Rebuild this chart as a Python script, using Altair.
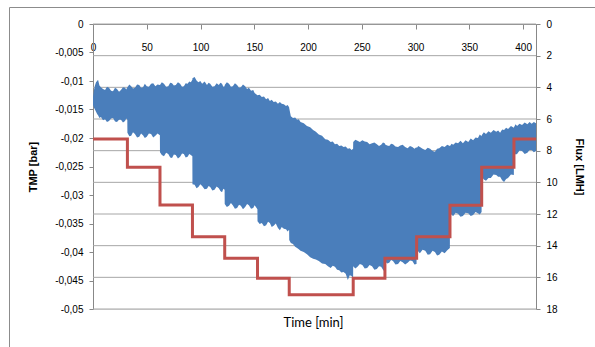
import altair as alt
import pandas as pd

# ---- data: (time [min], upper TMP, lower TMP) per flux step ----
seg1 = [(0, -0.0128, -0.0142), (0.9, -0.0116, -0.0147), (1.8, -0.0108, -0.0150), (2.8, -0.0102, -0.0154),
        (3.8, -0.0100, -0.0158), (4.7, -0.0098, -0.0160), (6, -0.0108, -0.0165), (7.4, -0.0111, -0.0163),
        (9.3, -0.0114, -0.0169), (11.2, -0.0116, -0.0167), (13, -0.0110, -0.0172), (14.9, -0.0112, -0.0170),
        (16.8, -0.0117, -0.0166), (18.6, -0.0118, -0.0165), (20.5, -0.0112, -0.0171), (22.3, -0.0114, -0.0172),
        (24.2, -0.0119, -0.0168), (26.0, -0.0116, -0.0168), (27.9, -0.0111, -0.0173), (29.8, -0.0112, -0.0170),
        (30.9, -0.0115, -0.0166), (31.9, -0.0111, -0.0168)]
seg2 = [(32.0, -0.0111, -0.0191), (33.8, -0.0106, -0.0197), (35.5, -0.0109, -0.0196), (37.2, -0.0113, -0.0190),
        (39, -0.0112, -0.0193), (41, -0.0106, -0.0199), (43, -0.0107, -0.0198), (44.7, -0.0112, -0.0192),
        (46.5, -0.0111, -0.0195), (48.2, -0.0105, -0.0200), (50, -0.0109, -0.0198), (52, -0.0110, -0.0192),
        (54, -0.0105, -0.0193), (56, -0.0104, -0.0199), (58, -0.0109, -0.0196), (60, -0.0106, -0.0192),
        (62.2, -0.0107, -0.0195)]
seg3 = [(62.3, -0.0107, -0.0225), (64, -0.0102, -0.0230), (66, -0.0105, -0.0232), (68, -0.0110, -0.0226),
        (70, -0.0109, -0.0228), (71.8, -0.0103, -0.0234), (73.5, -0.0104, -0.0235), (75.2, -0.0108, -0.0229),
        (77, -0.0107, -0.0230), (79, -0.0102, -0.0236), (81, -0.0105, -0.0233), (82.8, -0.0110, -0.0227),
        (84.5, -0.0109, -0.0228), (86.2, -0.0104, -0.0234), (88, -0.0105, -0.0233), (89.5, -0.0101, -0.0228),
        (91, -0.0102, -0.0230), (92.4, -0.0098, -0.0232)]
seg4 = [(92.5, -0.0095, -0.0281), (94.5, -0.0093, -0.0282), (96.3, -0.0099, -0.0288), (98, -0.0102, -0.0286),
        (99.8, -0.0100, -0.0281), (101.5, -0.0105, -0.0284), (103.8, -0.0101, -0.0290), (106, -0.0107, -0.0289),
        (107.5, -0.0103, -0.0284), (109, -0.0105, -0.0286), (111, -0.0110, -0.0292), (113, -0.0109, -0.0291),
        (115, -0.0104, -0.0285), (117, -0.0107, -0.0288), (118.5, -0.0103, -0.0293), (120, -0.0105, -0.0295),
        (121.2, -0.0110, -0.0289), (122.4, -0.0109, -0.0291)]
seg5 = [(122.5, -0.0107, -0.0316), (124.5, -0.0102, -0.0321), (126.5, -0.0105, -0.0319), (128.3, -0.0110, -0.0314),
        (130, -0.0109, -0.0318), (132, -0.0104, -0.0324), (134, -0.0107, -0.0323), (135.8, -0.0112, -0.0317),
        (137.5, -0.0111, -0.0319), (139.5, -0.0106, -0.0325), (141.5, -0.0109, -0.0321), (143.3, -0.0114, -0.0316),
        (145, -0.0112, -0.0318), (147, -0.0117, -0.0324), (149, -0.0116, -0.0323), (150.3, -0.0121, -0.0318),
        (151.5, -0.0123, -0.0321), (152.9, -0.0125, -0.0325)]
seg6 = [(153, -0.0125, -0.0346), (155, -0.0124, -0.0351), (157, -0.0128, -0.0349), (159, -0.0127, -0.0355),
        (161, -0.0132, -0.0353), (162.8, -0.0130, -0.0347), (164.5, -0.0135, -0.0349), (166.2, -0.0133, -0.0356),
        (168, -0.0137, -0.0354), (170, -0.0136, -0.0350), (172, -0.0140, -0.0358), (173.8, -0.0137, -0.0362),
        (175.5, -0.0140, -0.0356), (177.5, -0.0141, -0.0359), (179.5, -0.0144, -0.0360), (181, -0.0142, -0.0364),
        (182.4, -0.0146, -0.0361)]
seg7 = [(182.5, -0.0148, -0.0379), (184, -0.0162, -0.0384), (186, -0.0165, -0.0386), (188, -0.0164, -0.0391),
        (189.8, -0.0168, -0.0393), (191.4, -0.0167, -0.0395), (193, -0.0172, -0.0398), (196, -0.0174, -0.0400),
        (199, -0.0179, -0.0404), (202, -0.0181, -0.0409), (204.7, -0.0186, -0.0412), (207.3, -0.0189, -0.0413),
        (210, -0.0194, -0.0416), (213, -0.0196, -0.0420), (216, -0.0202, -0.0421), (218.5, -0.0203, -0.0425),
        (221, -0.0207, -0.0428), (223, -0.0206, -0.0424), (225, -0.0211, -0.0426), (227, -0.0210, -0.0431),
        (229, -0.0214, -0.0432), (231, -0.0213, -0.0436), (233, -0.0216, -0.0435), (235, -0.0215, -0.0438),
        (237, -0.0219, -0.0449), (238.8, -0.0218, -0.0441), (240.5, -0.0221, -0.0442), (241.9, -0.0219, -0.0446)]
seg8 = [(242, -0.0207, -0.0425), (244, -0.0203, -0.0429), (246, -0.0205, -0.0426), (248.2, -0.0207, -0.0421),
        (250.5, -0.0204, -0.0423), (252.7, -0.0206, -0.0429), (255, -0.0207, -0.0428), (257.2, -0.0211, -0.0423),
        (259.5, -0.0209, -0.0425), (261.7, -0.0208, -0.0431), (264, -0.0211, -0.0430), (266, -0.0214, -0.0425),
        (268, -0.0212, -0.0426), (269.7, -0.0208, -0.0431), (271.4, -0.0209, -0.0435)]
seg9 = [(271.5, -0.0211, -0.0416), (273.5, -0.0213, -0.0420), (275.5, -0.0214, -0.0419), (277.2, -0.0210, -0.0414),
        (279, -0.0211, -0.0416), (281.3, -0.0215, -0.0422), (283.7, -0.0216, -0.0421), (285.8, -0.0213, -0.0416),
        (288, -0.0212, -0.0418), (290.3, -0.0216, -0.0422), (292.6, -0.0218, -0.0419), (294.8, -0.0214, -0.0415),
        (297, -0.0216, -0.0416), (299, -0.0219, -0.0422), (300.9, -0.0216, -0.0421)]
seg10 = [(301, -0.0218, -0.0391), (302.5, -0.0214, -0.0399), (304, -0.0216, -0.0402), (306.5, -0.0219, -0.0396),
         (309, -0.0221, -0.0398), (311.3, -0.0217, -0.0405), (313.5, -0.0219, -0.0404), (315.8, -0.0223, -0.0398),
         (318, -0.0224, -0.0400), (320, -0.0219, -0.0406), (322, -0.0218, -0.0405), (324.5, -0.0214, -0.0399),
         (327, -0.0216, -0.0402), (329.5, -0.0212, -0.0397), (331.9, -0.0214, -0.0393)]
seg11 = [(332, -0.0214, -0.0330), (333.5, -0.0210, -0.0335), (335, -0.0212, -0.0337), (337.3, -0.0208, -0.0331),
         (339.5, -0.0209, -0.0333), (341.8, -0.0205, -0.0338), (344, -0.0209, -0.0337), (346.5, -0.0204, -0.0331),
         (349, -0.0207, -0.0332), (351.3, -0.0201, -0.0337), (353.5, -0.0204, -0.0335), (355.8, -0.0199, -0.0330),
         (358, -0.0200, -0.0332), (359.7, -0.0194, -0.0334), (361.4, -0.0197, -0.0330)]
seg12 = [(361.5, -0.0195, -0.0268), (363.5, -0.0190, -0.0273), (365.5, -0.0193, -0.0275), (367.8, -0.0188, -0.0270),
         (370, -0.0191, -0.0270), (372.5, -0.0186, -0.0264), (375, -0.0189, -0.0265), (376.8, -0.0187, -0.0268),
         (378.6, -0.0191, -0.0268), (380.5, -0.0185, -0.0274), (382.3, -0.0186, -0.0277), (384.2, -0.0182, -0.0272),
         (386, -0.0184, -0.0270), (388.7, -0.0179, -0.0264), (391.4, -0.0182, -0.0265)]
seg13 = [(391.5, -0.0181, -0.0225), (393, -0.0176, -0.0229), (394.4, -0.0179, -0.0228), (396.7, -0.0175, -0.0222),
         (399, -0.0177, -0.0223), (401.5, -0.0173, -0.0228), (404, -0.0176, -0.0226), (406, -0.0172, -0.0221),
         (408, -0.0175, -0.0221), (410, -0.0172, -0.0225), (412, -0.0174, -0.0223)]

flux_time = [0, 32, 62.3, 92.5, 122.5, 153, 182.5, 242, 271.5, 301, 332, 361.5, 391.5, 412]
flux_value = [7.26, 9.05, 11.43, 13.43, 14.8, 16.05, 17.1, 16.05, 14.8, 13.43, 11.45, 9.05, 7.26, 7.26]

time_ticks = [0, 50, 100, 150, 200, 250, 300, 350, 400]
tmp_ticks = [0, -0.005, -0.01, -0.015, -0.02, -0.025, -0.03, -0.035, -0.04, -0.045, -0.05]
flux_ticks = [0, 2, 4, 6, 8, 10, 12, 14, 16, 18]
x_title = ["Time [min]"]

W, H = 443, 285
FONT = "Lato"
AXIS_GREY = "#9a9a9a"
GRID_GREY = "#a6a6a6"

rows = seg1 + seg2 + seg3 + seg4 + seg5 + seg6 + seg7 + seg8 + seg9 + seg10 + seg11 + seg12 + seg13
band = pd.DataFrame(rows, columns=["t", "hi", "lo"])
flux = pd.DataFrame({"t": flux_time, "flux": flux_value})
grid = pd.DataFrame({"flux": flux_ticks})
frame = pd.DataFrame({"k": [1]})
xt = pd.DataFrame({"label": x_title})

x_scale = alt.Scale(domain=[0, 412], nice=False, zero=False)
x_enc = alt.X(
    "t:Q",
    scale=x_scale,
    axis=alt.Axis(orient="bottom", offset=-H, values=time_ticks, title=None, grid=False,
                  tickSize=5, labelPadding=13, labelFlush=False),
)
flux_scale = alt.Scale(domain=[0, 18], reverse=True, nice=False, zero=False)

grid_rules = alt.Chart(grid).mark_rule(color=GRID_GREY, strokeWidth=1).encode(
    y=alt.Y("flux:Q", scale=flux_scale, axis=None),
    x=alt.value(0),
    x2=alt.value(W),
)

area = alt.Chart(band).mark_area(color="#4a7ebb", opacity=1).encode(
    x=x_enc,
    y=alt.Y(
        "hi:Q",
        scale=alt.Scale(domain=[-0.05, 0], nice=False, zero=False),
        axis=alt.Axis(orient="left", values=tmp_ticks, grid=False,
                      labelExpr="replace(toString(datum.value), '.', ',')",
                      title="TMP [bar]", titleX=-60, titleY=H / 2, titleAngle=270,
                      titleAlign="center", titleBaseline="middle",
                      tickSize=4, labelPadding=6),
    ),
    y2="lo:Q",
)

line = alt.Chart(flux).mark_line(interpolate="step-after", color="#c0504d", strokeWidth=3).encode(
    x=x_enc,
    y=alt.Y(
        "flux:Q",
        scale=flux_scale,
        axis=alt.Axis(orient="right", values=flux_ticks, grid=False,
                      title="Flux [LMH]", titleX=42, titleY=H / 2, titleAngle=90,
                      titleAlign="center", titleBaseline="middle",
                      tickSize=4, labelPadding=6),
    ),
)

border = alt.Chart(frame).mark_rect(filled=False, stroke="#8c8c8c", strokeWidth=1).encode(
    x=alt.value(-83.5), x2=alt.value(530), y=alt.value(-16.5), y2=alt.value(345)
)

xlabel = alt.Chart(xt).mark_text(font=FONT, fontSize=13, fontWeight="normal", color="#000",
                                 align="center", baseline="middle").encode(
    text="label:N", x=alt.value(W / 2 - 1), y=alt.value(H + 14)
)

chart = (
    alt.layer(grid_rules, area, line, border, xlabel)
    .resolve_scale(y="independent")
    .properties(
        width=W,
        height=H,
        padding={"left": 93, "top": 24, "right": 59, "bottom": 38},
        autosize=alt.AutoSizeParams(type="none"),
    )
    .configure_axis(labelFont=FONT, titleFont=FONT, labelFontSize=12, titleFontSize=13,
                    labelColor="#222", titleColor="#000", titleFontWeight="bold",
                    domainColor=AXIS_GREY, tickColor=AXIS_GREY)
    .configure_view(stroke=None)
    .configure(background="white")
)

chart.save("out.html", embed_options={"renderer": "svg", "actions": False})
